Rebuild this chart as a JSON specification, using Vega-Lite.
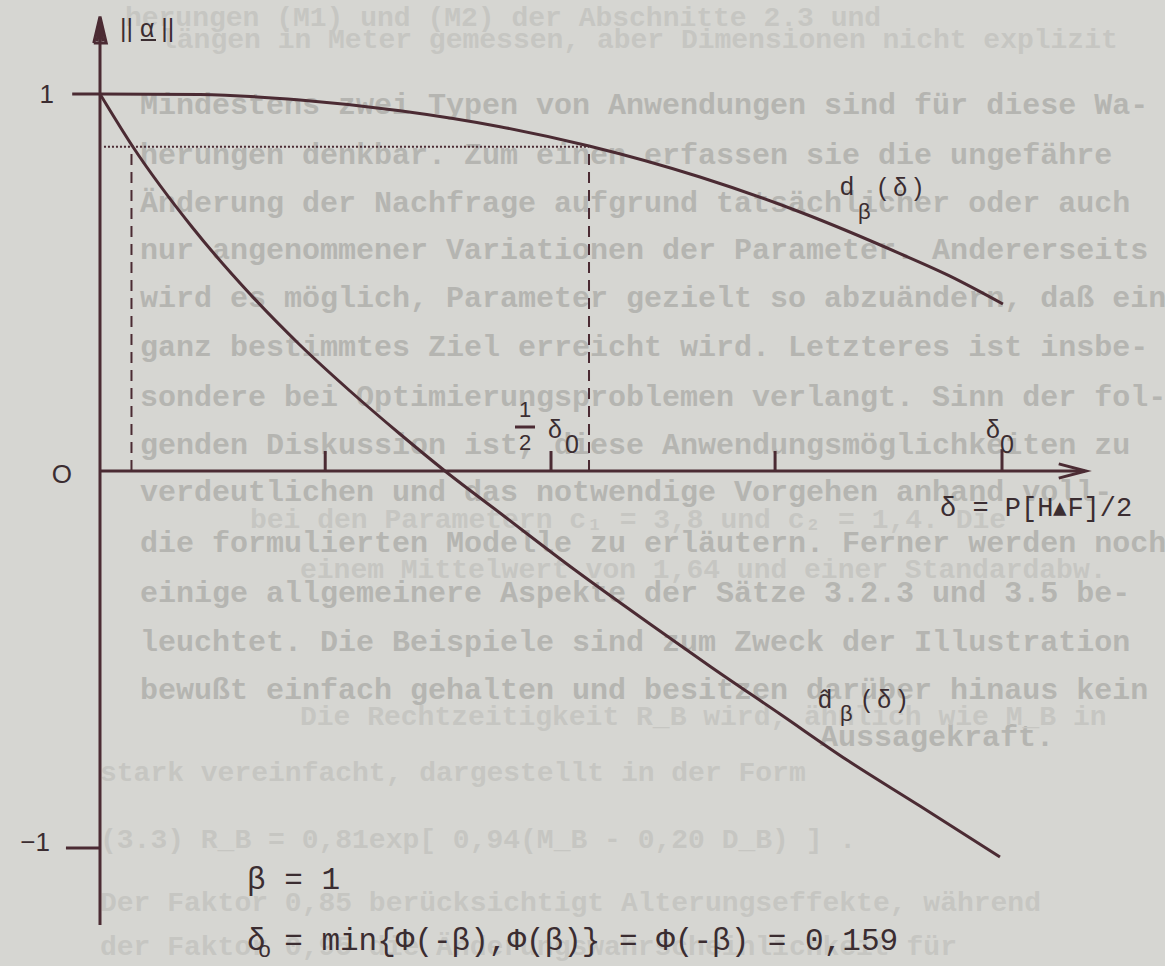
{
  "$schema": "https://vega.github.io/schema/vega-lite/v6.json",
  "width": 1165,
  "height": 966,
  "padding": 0,
  "autosize": {"type": "none"},
  "background": "#d6d6d2",
  "config": {"view": {"stroke": null}},
  "datasets": {
    "pageBold": [
      {"label": "Mindestens zwei Typen von Anwendungen sind für diese Wa-", "delta": 0.00705, "norm": 0.9708},
      {"label": "herungen denkbar. Zum einen erfassen sie die ungefähre", "delta": 0.00705, "norm": 0.8382},
      {"label": "Änderung der Nachfrage aufgrund tatsächlicher oder auch", "delta": 0.00705, "norm": 0.7109},
      {"label": "nur angenommener Variationen der Parameter. Andererseits", "delta": 0.00705, "norm": 0.5862},
      {"label": "wird es möglich, Parameter gezielt so abzuändern, daß ein", "delta": 0.00705, "norm": 0.4589},
      {"label": "ganz bestimmtes Ziel erreicht wird. Letzteres ist insbe-", "delta": 0.00705, "norm": 0.3289},
      {"label": "sondere bei Optimierungsproblemen verlangt. Sinn der fol-", "delta": 0.00705, "norm": 0.1963},
      {"label": "genden Diskussion ist, diese Anwendungsmöglichkeiten zu", "delta": 0.00705, "norm": 0.069},
      {"label": "verdeutlichen und das notwendige Vorgehen anhand voll-", "delta": 0.00705, "norm": -0.0557},
      {"label": "die formulierten Modelle zu erläutern. Ferner werden noch", "delta": 0.00705, "norm": -0.191},
      {"label": "einige allgemeinere Aspekte der Sätze 3.2.3 und 3.5 be-", "delta": 0.00705, "norm": -0.3236},
      {"label": "leuchtet. Die Beispiele sind zum Zweck der Illustration", "delta": 0.00705, "norm": -0.4536},
      {"label": "bewußt einfach gehalten und besitzen darüber hinaus kein", "delta": 0.00705, "norm": -0.5809},
      {"label": "Aussagekraft.", "delta": 0.12692, "norm": -0.7056}
    ],
    "pageFaint": [
      {"label": "herungen (M1) und (M2) der Abschnitte 2.3 und", "delta": 0.0044, "norm": 1.2016},
      {"label": "längen in Meter gemessen, aber Dimensionen nicht explizit", "delta": 0.01058, "norm": 1.1432},
      {"label": "bei den Parametern c₁ = 3,8 und c₂ = 1,4. Die", "delta": 0.02644, "norm": -0.13},
      {"label": "einem Mittelwert von 1,64 und einer Standardabw.", "delta": 0.03525, "norm": -0.2626},
      {"label": "Die Rechtzeitigkeit R_B wird, ähnlich wie M_B in", "delta": 0.03525, "norm": -0.6525},
      {"label": "stark vereinfacht, dargestellt in der Form", "delta": 0.0, "norm": -0.8011},
      {"label": "(3.3)  R_B = 0,81exp[ 0,94(M_B - 0,20 D_B) ] .", "delta": 0.0, "norm": -0.9788},
      {"label": "Der Faktor 0,85 berücksichtigt Alterungseffekte, während", "delta": 0.0, "norm": -1.1459},
      {"label": "der Faktor 0,95 die Änderungswahrscheinlichkeit für", "delta": 0.0, "norm": -1.2626}
    ],
    "curves": [
      {"curve": "d", "delta": 0.0, "norm": 1.0},
      {"curve": "d", "delta": 0.01763, "norm": 0.9987},
      {"curve": "d", "delta": 0.03525, "norm": 0.9841},
      {"curve": "d", "delta": 0.05288, "norm": 0.9557},
      {"curve": "d", "delta": 0.07051, "norm": 0.9133},
      {"curve": "d", "delta": 0.0862, "norm": 0.8621},
      {"curve": "d", "delta": 0.10576, "norm": 0.7798},
      {"curve": "d", "delta": 0.12339, "norm": 0.687},
      {"curve": "d", "delta": 0.14102, "norm": 0.5767},
      {"curve": "d", "delta": 0.14983, "norm": 0.517},
      {"curve": "d", "delta": 0.15917, "norm": 0.443},
      {"curve": "dhat", "delta": 0.0, "norm": 1.0},
      {"curve": "dhat", "delta": 0.00582, "norm": 0.8594},
      {"curve": "dhat", "delta": 0.01622, "norm": 0.6472},
      {"curve": "dhat", "delta": 0.02644, "norm": 0.4695},
      {"curve": "dhat", "delta": 0.03525, "norm": 0.3342},
      {"curve": "dhat", "delta": 0.04407, "norm": 0.2122},
      {"curve": "dhat", "delta": 0.05288, "norm": 0.0981},
      {"curve": "dhat", "delta": 0.06081, "norm": 0.0},
      {"curve": "dhat", "delta": 0.07051, "norm": -0.1114},
      {"curve": "dhat", "delta": 0.08373, "norm": -0.2626},
      {"curve": "dhat", "delta": 0.09695, "norm": -0.4058},
      {"curve": "dhat", "delta": 0.1077, "norm": -0.5199},
      {"curve": "dhat", "delta": 0.11987, "norm": -0.6446},
      {"curve": "dhat", "delta": 0.13168, "norm": -0.7666},
      {"curve": "dhat", "delta": 0.14454, "norm": -0.8886},
      {"curve": "dhat", "delta": 0.15864, "norm": -1.0239}
    ],
    "strokes": [
      {"seg": "xaxis", "i": 0, "delta": 0.0, "norm": 0.0},
      {"seg": "xaxis", "i": 1, "delta": 0.1736, "norm": 0.0},
      {"seg": "yaxis", "i": 0, "delta": 0.0, "norm": -1.204},
      {"seg": "yaxis", "i": 1, "delta": 0.0, "norm": 1.2},
      {"seg": "ytickTop", "i": 0, "delta": -0.0049, "norm": 1.0},
      {"seg": "ytickTop", "i": 1, "delta": 0.0, "norm": 1.0},
      {"seg": "ytickBottom", "i": 0, "delta": -0.006, "norm": -1.0},
      {"seg": "ytickBottom", "i": 1, "delta": 0.0, "norm": -1.0},
      {"seg": "xtick1", "i": 0, "delta": 0.0397, "norm": 0.0},
      {"seg": "xtick1", "i": 1, "delta": 0.0397, "norm": 0.053},
      {"seg": "xtick2", "i": 0, "delta": 0.0795, "norm": 0.0},
      {"seg": "xtick2", "i": 1, "delta": 0.0795, "norm": 0.053},
      {"seg": "xtick3", "i": 0, "delta": 0.119, "norm": 0.0},
      {"seg": "xtick3", "i": 1, "delta": 0.119, "norm": 0.053},
      {"seg": "xtick4", "i": 0, "delta": 0.159, "norm": 0.0},
      {"seg": "xtick4", "i": 1, "delta": 0.159, "norm": 0.058},
      {"seg": "xarrow", "i": 0, "delta": 0.169, "norm": 0.019},
      {"seg": "xarrow", "i": 1, "delta": 0.1738, "norm": 0.0},
      {"seg": "xarrow", "i": 2, "delta": 0.169, "norm": -0.019},
      {"seg": "yarrow", "i": 0, "delta": -0.0011, "norm": 1.135},
      {"seg": "yarrow", "i": 1, "delta": 0.0, "norm": 1.205},
      {"seg": "yarrow", "i": 2, "delta": 0.0011, "norm": 1.135},
      {"seg": "yarrow", "i": 3, "delta": -0.0011, "norm": 1.135},
      {"seg": "yarrowInner", "i": 0, "delta": -0.0005, "norm": 1.14},
      {"seg": "yarrowInner", "i": 1, "delta": 0.0, "norm": 1.2},
      {"seg": "yarrowInner", "i": 2, "delta": 0.0005, "norm": 1.14},
      {"seg": "fraction", "i": 0, "delta": 0.07315, "norm": 0.1167},
      {"seg": "fraction", "i": 1, "delta": 0.07668, "norm": 0.1167}
    ],
    "underline": [
      {"i": 0, "delta": 0.0072, "norm": 1.1432},
      {"i": 1, "delta": 0.00987, "norm": 1.1432}
    ],
    "dashed": [
      {"seg": "left", "i": 0, "delta": 0.00555, "norm": 0.0},
      {"seg": "left", "i": 1, "delta": 0.00555, "norm": 0.86},
      {"seg": "half", "i": 0, "delta": 0.0862, "norm": 0.0},
      {"seg": "half", "i": 1, "delta": 0.0862, "norm": 0.86}
    ],
    "dotted": [
      {"i": 0, "delta": 0.0007, "norm": 0.86},
      {"i": 1, "delta": 0.0862, "norm": 0.86}
    ],
    "axisLabels": [
      {"label": "1", "delta": -0.00811, "norm": 0.997},
      {"label": "O", "delta": -0.00494, "norm": -0.0106},
      {"label": "−1", "delta": -0.00881, "norm": -0.987}
    ],
    "sansLabels": [
      {"label": "δ", "delta": 0.15618, "norm": 0.1088},
      {"label": "0", "delta": 0.15865, "norm": 0.069},
      {"label": "δ", "delta": 0.07897, "norm": 0.1088},
      {"label": "0", "delta": 0.08197, "norm": 0.069},
      {"label": "d", "delta": 0.13044, "norm": 0.7533},
      {"label": "( δ )", "delta": 0.13714, "norm": 0.7507},
      {"label": "d̂", "delta": 0.12657, "norm": -0.6074},
      {"label": "( δ )", "delta": 0.13432, "norm": -0.6074}
    ],
    "subLabels": [
      {"label": "β", "delta": 0.13361, "norm": 0.687},
      {"label": "β", "delta": 0.13044, "norm": -0.6446}
    ],
    "fractionDigits": [
      {"label": "1", "delta": 0.07492, "norm": 0.1618},
      {"label": "2", "delta": 0.07492, "norm": 0.0743}
    ],
    "titleY": [
      {"label": "|| α ||", "delta": 0.00353, "norm": 1.172}
    ],
    "titleX": [
      {"label": "δ = P[H▴F]/2", "delta": 0.14807, "norm": -0.0981}
    ],
    "notes": [
      {"label": "β = 1", "delta": 0.02591, "norm": -1.0849},
      {"label": "δ  = min{Φ(-β),Φ(β)} = Φ(-β) = 0,159", "delta": 0.02591, "norm": -1.2467}
    ],
    "noteSub": [
      {"label": "o", "delta": 0.02785, "norm": -1.2706}
    ]
  },
  "encoding": {
    "x": {"field": "delta", "type": "quantitative", "axis": null,
          "scale": {"domain": [-0.017627, 0.187732], "nice": false, "zero": false}},
    "y": {"field": "norm", "type": "quantitative", "axis": null,
          "scale": {"domain": [-1.313, 1.24934], "nice": false, "zero": false}}
  },
  "layer": [
    {
      "data": {"name": "pageBold"},
      "mark": {"type": "text", "align": "left", "baseline": "middle", "font": "Liberation Mono",
               "fontWeight": "bold", "fontSize": 30, "color": "#b5b5b1"},
      "encoding": {"text": {"field": "label"}}
    },
    {
      "data": {"name": "pageFaint"},
      "mark": {"type": "text", "align": "left", "baseline": "middle", "font": "Liberation Mono",
               "fontWeight": "bold", "fontSize": 28, "color": "#c6c6c2"},
      "encoding": {"text": {"field": "label"}}
    },
    {
      "data": {"name": "dotted"},
      "mark": {"type": "line", "color": "#4b2b33", "strokeWidth": 2, "strokeDash": [2, 2]},
      "encoding": {"order": {"field": "i"}}
    },
    {
      "data": {"name": "dashed"},
      "mark": {"type": "line", "color": "#4b2b33", "strokeWidth": 2, "strokeDash": [11, 7]},
      "encoding": {"detail": {"field": "seg"}, "order": {"field": "i"}}
    },
    {
      "data": {"name": "strokes"},
      "mark": {"type": "line", "color": "#4b2b33", "strokeWidth": 3, "strokeJoin": "miter"},
      "encoding": {"detail": {"field": "seg"}, "order": {"field": "i"}}
    },
    {
      "data": {"name": "underline"},
      "mark": {"type": "line", "color": "#3b2d31", "strokeWidth": 2},
      "encoding": {"order": {"field": "i"}}
    },
    {
      "data": {"name": "curves"},
      "mark": {"type": "line", "color": "#4b2b33", "strokeWidth": 3, "interpolate": "monotone"},
      "encoding": {"detail": {"field": "curve"}, "order": {"field": "delta"}}
    },
    {
      "data": {"name": "axisLabels"},
      "mark": {"type": "text", "align": "right", "baseline": "middle", "font": "Liberation Sans",
               "fontSize": 26, "color": "#3b2d31"},
      "encoding": {"text": {"field": "label"}}
    },
    {
      "data": {"name": "sansLabels"},
      "mark": {"type": "text", "align": "left", "baseline": "middle", "font": "Liberation Sans",
               "fontSize": 25, "color": "#3b2d31"},
      "encoding": {"text": {"field": "label"}}
    },
    {
      "data": {"name": "subLabels"},
      "mark": {"type": "text", "align": "left", "baseline": "middle", "font": "Liberation Sans",
               "fontSize": 22, "color": "#3b2d31"},
      "encoding": {"text": {"field": "label"}}
    },
    {
      "data": {"name": "fractionDigits"},
      "mark": {"type": "text", "align": "center", "baseline": "middle", "font": "Liberation Sans",
               "fontSize": 22, "color": "#3b2d31"},
      "encoding": {"text": {"field": "label"}}
    },
    {
      "data": {"name": "titleY"},
      "mark": {"type": "text", "align": "left", "baseline": "middle", "font": "Liberation Sans",
               "fontSize": 25, "color": "#3b2d31"},
      "encoding": {"text": {"field": "label"}}
    },
    {
      "data": {"name": "titleX"},
      "mark": {"type": "text", "align": "left", "baseline": "middle", "font": "Liberation Mono",
               "fontSize": 27, "color": "#3b2d31"},
      "encoding": {"text": {"field": "label"}}
    },
    {
      "data": {"name": "notes"},
      "mark": {"type": "text", "align": "left", "baseline": "middle", "font": "Liberation Mono",
               "fontSize": 31, "color": "#3b2d31"},
      "encoding": {"text": {"field": "label"}}
    },
    {
      "data": {"name": "noteSub"},
      "mark": {"type": "text", "align": "left", "baseline": "middle", "font": "Liberation Mono",
               "fontSize": 22, "color": "#3b2d31"},
      "encoding": {"text": {"field": "label"}}
    }
  ]
}
